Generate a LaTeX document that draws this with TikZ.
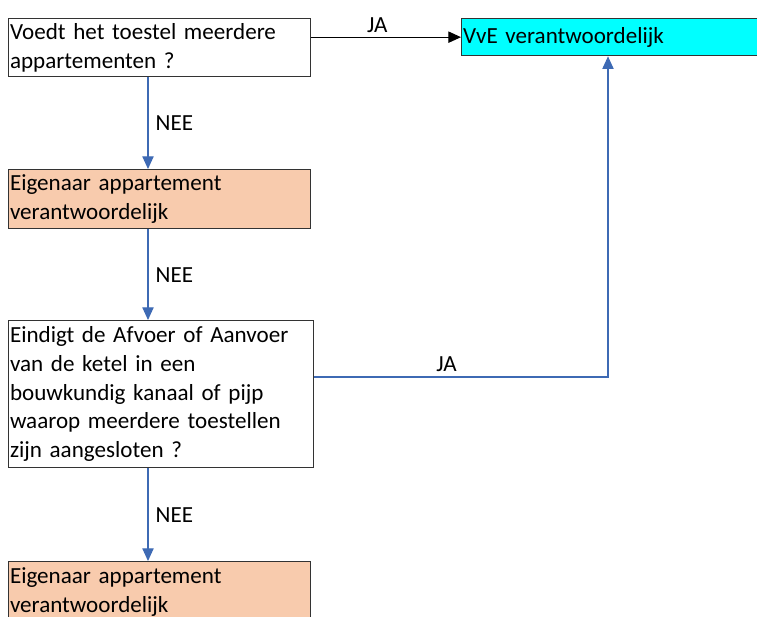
\documentclass[tikz,border=0pt]{standalone}
\usepackage{fontspec}
\setmainfont{Carlito}
\usetikzlibrary{arrows.meta}
\definecolor{vvecyan}{RGB}{0,255,255}
\definecolor{peach}{RGB}{248,203,173}
\definecolor{flowblue}{RGB}{62,106,180}

\begin{document}
\begin{tikzpicture}[x=0.75pt,y=-0.75pt,
        box/.style={draw=black!80, line width=1pt, anchor=north west, align=left,
            inner xsep=1pt, inner ysep=0pt, font=\fontsize{17.3}{21.6}\selectfont},
        flowarrow/.style={draw=flowblue, line width=0.8pt, -{Triangle[width=8.5pt,length=9.5pt]}},
        yesarrow/.style={draw=black, line width=0.8pt, -{Triangle[width=8.5pt,length=9.5pt]}},
        answer/.style={font=\fontsize{17.3}{21}\selectfont}]
            \useasboundingbox (0,0) rectangle (757,617);
            \coordinate (spine) at (148,0);
            \coordinate (jaturn) at (608,377);
            \node[box, minimum width=226.5pt, minimum height=43.5pt, text width=224.5pt] (toestel) at (8,18) {Voedt het toestel meerdere\\appartementen ?};
            \node[box, fill=vvecyan, minimum width=225pt, minimum height=27.75pt, text width=223pt] (vve) at (461,18) {VvE verantwoordelijk};
            \node[box, fill=peach, minimum width=226.5pt, minimum height=44.25pt, text width=224.5pt] (eigenaar1) at (8,169) {Eigenaar appartement\\verantwoordelijk};
            \node[box, minimum width=228.75pt, minimum height=110.25pt, text width=226.75pt] (afvoer) at (8,320) {Eindigt de Afvoer of Aanvoer\\van de ketel in een\\bouwkundig kanaal of pijp\\waarop meerdere toestellen\\zijn aangesloten ?};
            \node[box, fill=peach, minimum width=226.5pt, minimum height=45pt, text width=224.5pt] (eigenaar2) at (8,561) {Eigenaar appartement\\verantwoordelijk};
            \draw[yesarrow] (toestel.east |- vve.west) -- node[answer, above=0pt, pos=0.44] {JA} (vve.west);
            \draw[flowarrow] (toestel.south -| spine) -- node[answer, right=2pt] {NEE} (eigenaar1.north -| spine);
            \draw[flowarrow] (eigenaar1.south -| spine) -- node[answer, right=2pt] {NEE} (afvoer.north -| spine);
            \draw[flowarrow] (afvoer.south -| spine) -- node[answer, right=2pt] {NEE} (eigenaar2.north -| spine);
            \draw[flowarrow] (afvoer.east |- jaturn) -- node[answer, above=0pt, pos=0.45] {JA} (jaturn) -- (vve.south -| jaturn);
        \end{tikzpicture}
\end{document}
